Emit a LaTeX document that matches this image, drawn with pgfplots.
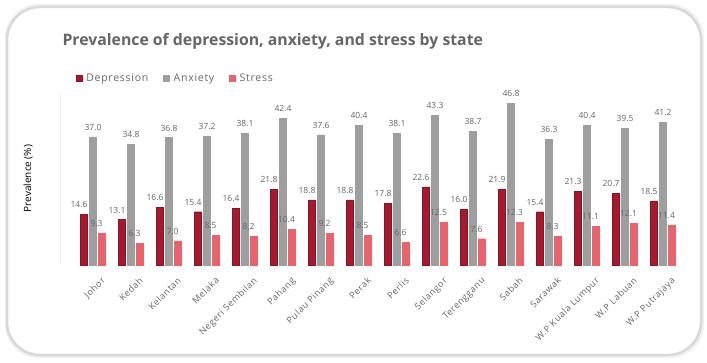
\documentclass[border=0pt]{standalone}
\usepackage{fontspec}
\setmainfont{Open Sans}
\usepackage{pgfplots}
\pgfplotsset{compat=1.18}

\definecolor{depcol}{HTML}{A8192E}
\definecolor{anxcol}{HTML}{9E9E9E}
\definecolor{strcol}{HTML}{E8636B}
\definecolor{txtcol}{HTML}{666666}

\newcommand{\spaced}{\addfontfeatures{LetterSpace=7}}

\begin{document}
\begin{tikzpicture}[x=1pt,y=1pt]
\useasboundingbox (0,0) rectangle (707,362);
% card background
\fill[gray!12] (5,4) [rounded corners=34pt] rectangle (704,358);
\draw[gray!30, line width=2.5pt, fill=white, rounded corners=33pt] (7,7) rectangle (701,355);

% title
\node[anchor=west, font=\bfseries\fontsize{15.8}{18}\selectfont, text=txtcol] at (59,321)
  {Prevalence of depression, anxiety, and stress by state};

\begin{axis}[
  at={(60.7pt,97pt)}, anchor=south west,
  scale only axis, width=628.9pt, height=173pt,
  xmin=-0.85, xmax=15.7, ymin=0, ymax=50,
  ybar=0pt, bar width=7pt,
  axis lines=left, axis line style={-},
  x axis line style={draw=none},
  y axis line style={gray!12},
  ytick=\empty,
  xtick=data,
  xticklabels={Johor,Kedah,Kelantan,Melaka,Negeri Sembilan,Pahang,Pulau Pinang,Perak,Perlis,Selangor,Terengganu,Sabah,Sarawak,W.P Kuala Lumpur,W.P Labuan,W.P Putrajaya},
  major tick length=0pt,
  xticklabel style={rotate=45, anchor=north east, font=\fontsize{9}{10}\selectfont\spaced, text=txtcol, xshift=1pt, yshift=-10pt},
  ylabel={Prevalence (\%)},
  ylabel style={font=\fontsize{8}{9}\selectfont\spaced, text=txtcol},
  every axis y label/.style={at={(axis description cs:-0.052,0.5)}, rotate=90, anchor=center},
  nodes near coords,
  point meta=y,
  /pgf/number format/assume math mode=true,
  /pgf/number format/fixed,
  /pgf/number format/fixed zerofill,
  /pgf/number format/precision=1,
  nodes near coords style={font=\fontsize{8.5}{9}\selectfont, text=txtcol},
  legend style={at={(12pt,187pt)}, anchor=west, draw=none, fill=none,
    legend columns=-1, font=\fontsize{10.5}{12}\selectfont\spaced, text=txtcol,
    /tikz/every odd column/.append style={column sep=2pt},
    /tikz/every even column/.append style={column sep=13pt}},
  legend image code/.code={\fill[#1] (0pt,-3pt) rectangle (6pt,3pt);},
  legend cell align=left,
]
\addplot[fill=depcol, draw=depcol!80!black, bar shift=-9pt,
  nodes near coords style={xshift=-5pt, yshift=3pt}]
  coordinates {(0,14.6) (1,13.1) (2,16.6) (3,15.4) (4,16.4) (5,21.8) (6,18.8) (7,18.8)
               (8,17.8) (9,22.6) (10,16.0) (11,21.9) (12,15.4) (13,21.3) (14,20.7) (15,18.5)};
\addplot[fill=anxcol, draw=anxcol, bar shift=0pt,
  nodes near coords style={yshift=3pt}]
  coordinates {(0,37.0) (1,34.8) (2,36.8) (3,37.2) (4,38.1) (5,42.4) (6,37.6) (7,40.4)
               (8,38.1) (9,43.3) (10,38.7) (11,46.8) (12,36.3) (13,40.4) (14,39.5) (15,41.2)};
\addplot[fill=strcol, draw=strcol, bar shift=8.5pt,
  nodes near coords style={xshift=-5pt, yshift=3pt}]
  coordinates {(0,9.3) (1,6.3) (2,7.0) (3,8.5) (4,8.2) (5,10.4) (6,9.2) (7,8.5)
               (8,6.6) (9,12.5) (10,7.6) (11,12.3) (12,8.3) (13,11.1) (14,12.1) (15,11.4)};
\legend{Depression,Anxiety,Stress}
\end{axis}
\end{tikzpicture}
\end{document}
